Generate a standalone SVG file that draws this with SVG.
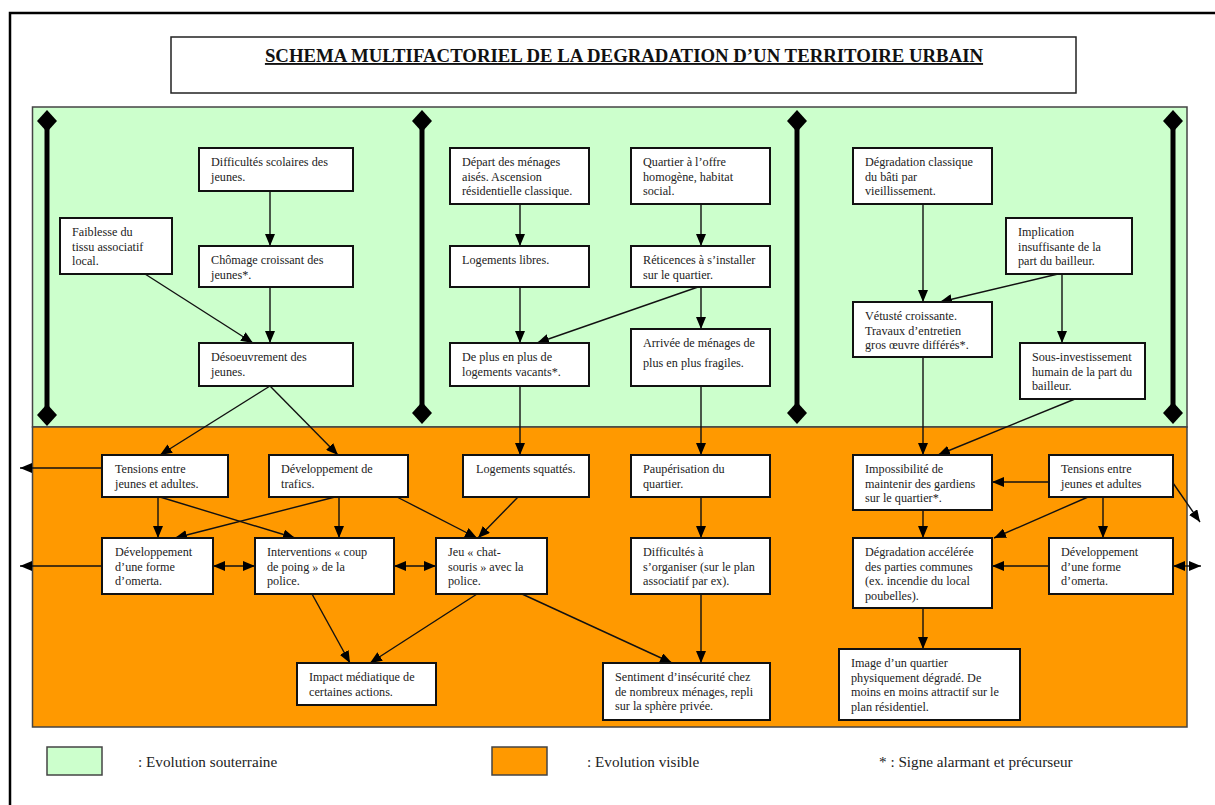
<svg xmlns="http://www.w3.org/2000/svg" width="1215" height="805" viewBox="0 0 1215 805">
<style>
.frame{fill:none;stroke:#000;stroke-width:2.5}
.title-box{fill:#fff;stroke:#222;stroke-width:1.5}
.title{font-family:"Liberation Serif",serif;font-size:18.8px;font-weight:bold;fill:#111;text-decoration:underline}
.zone-green{fill:#ccffcc;stroke:#444;stroke-width:1.5}
.zone-orange{fill:#ff9900;stroke:#444;stroke-width:1.5}
.box{fill:#fff;stroke:#111;stroke-width:2}
.t{font-family:"Liberation Serif",serif;font-size:12.2px;fill:#222}
.lg{font-family:"Liberation Serif",serif;font-size:15.2px;fill:#222}
.c{fill:none;stroke:#111;stroke-width:1.4}
.bar{stroke:#000;stroke-width:5}
.dia{fill:#000}
</style>
<defs>
<marker id="ah" viewBox="0 0 12 10" refX="12" refY="5" markerWidth="12" markerHeight="10" markerUnits="userSpaceOnUse" orient="auto-start-reverse">
<path d="M0,0 L12,5 L0,10 Z" fill="#000"/>
</marker>
</defs>
<rect width="1215" height="805" fill="#fff"/>
<path class="frame" d="M10,805 V13 H1215"/>
<g id="title">
<rect class="title-box" x="171" y="37" width="905" height="56"/>
<text class="title" x="624" y="62" text-anchor="middle">SCHEMA MULTIFACTORIEL DE LA DEGRADATION D’UN TERRITOIRE URBAIN</text>
</g>
<g id="zones">
<rect class="zone-green" x="32.5" y="107" width="1154.5" height="320"/>
<rect class="zone-orange" x="32.5" y="427" width="1154.5" height="300"/>
</g>
<g id="bars">
<line class="bar" x1="47" y1="121" x2="47" y2="415"/>
<polygon class="dia" points="47,110 57,121 47,132 37,121"/>
<polygon class="dia" points="47,404 57,415 47,426 37,415"/>
<line class="bar" x1="422" y1="121" x2="422" y2="413"/>
<polygon class="dia" points="422,110 432,121 422,132 412,121"/>
<polygon class="dia" points="422,402 432,413 422,424 412,413"/>
<line class="bar" x1="797" y1="121" x2="797" y2="413"/>
<polygon class="dia" points="797,110 807,121 797,132 787,121"/>
<polygon class="dia" points="797,402 807,413 797,424 787,413"/>
<line class="bar" x1="1173" y1="121" x2="1173" y2="413"/>
<polygon class="dia" points="1173,110 1183,121 1173,132 1163,121"/>
<polygon class="dia" points="1173,402 1183,413 1173,424 1163,413"/>
</g>
<g id="connectors">
<line class="c" x1="270" y1="191" x2="270" y2="246" marker-end="url(#ah)"/>
<line class="c" x1="270" y1="287" x2="270" y2="343" marker-end="url(#ah)"/>
<line class="c" x1="145" y1="274" x2="253" y2="343" marker-end="url(#ah)"/>
<line class="c" x1="520" y1="204" x2="520" y2="246" marker-end="url(#ah)"/>
<line class="c" x1="520" y1="287" x2="520" y2="343" marker-end="url(#ah)"/>
<line class="c" x1="701" y1="204" x2="701" y2="246" marker-end="url(#ah)"/>
<line class="c" x1="701" y1="287" x2="701" y2="329" marker-end="url(#ah)"/>
<line class="c" x1="698" y1="287" x2="537" y2="343" marker-end="url(#ah)"/>
<line class="c" x1="923" y1="204" x2="923" y2="302" marker-end="url(#ah)"/>
<line class="c" x1="1058" y1="274" x2="940" y2="302" marker-end="url(#ah)"/>
<line class="c" x1="1062" y1="274" x2="1062" y2="343" marker-end="url(#ah)"/>
<line class="c" x1="270" y1="386" x2="160" y2="455" marker-end="url(#ah)"/>
<line class="c" x1="270" y1="386" x2="338" y2="455" marker-end="url(#ah)"/>
<line class="c" x1="520" y1="386" x2="520" y2="455" marker-end="url(#ah)"/>
<line class="c" x1="701" y1="386" x2="701" y2="455" marker-end="url(#ah)"/>
<line class="c" x1="923" y1="357" x2="923" y2="455" marker-end="url(#ah)"/>
<line class="c" x1="1075" y1="399" x2="938" y2="455" marker-end="url(#ah)"/>
<line class="c" x1="102" y1="468" x2="20" y2="468" marker-end="url(#ah)"/>
<line class="c" x1="102" y1="566" x2="20" y2="566" marker-end="url(#ah)"/>
<line class="c" x1="158" y1="497" x2="158" y2="538" marker-end="url(#ah)"/>
<line class="c" x1="160" y1="497" x2="295" y2="538" marker-end="url(#ah)"/>
<line class="c" x1="335" y1="497" x2="175" y2="538" marker-end="url(#ah)"/>
<line class="c" x1="339" y1="497" x2="339" y2="538" marker-end="url(#ah)"/>
<line class="c" x1="397" y1="497" x2="477" y2="538" marker-end="url(#ah)"/>
<line class="c" x1="213" y1="566" x2="255" y2="566" marker-start="url(#ah)" marker-end="url(#ah)"/>
<line class="c" x1="394" y1="566" x2="436" y2="566" marker-start="url(#ah)" marker-end="url(#ah)"/>
<line class="c" x1="518" y1="497" x2="478" y2="538" marker-end="url(#ah)"/>
<line class="c" x1="701" y1="497" x2="701" y2="538" marker-end="url(#ah)"/>
<line class="c" x1="312" y1="594" x2="350" y2="663" marker-end="url(#ah)"/>
<line class="c" x1="477" y1="594" x2="370" y2="663" marker-end="url(#ah)"/>
<line class="c" x1="522" y1="594" x2="672" y2="663" marker-end="url(#ah)"/>
<line class="c" x1="701" y1="594" x2="701" y2="663" marker-end="url(#ah)"/>
<line class="c" x1="1049" y1="482" x2="992" y2="482" marker-end="url(#ah)"/>
<line class="c" x1="1088" y1="497" x2="994" y2="538" marker-end="url(#ah)"/>
<line class="c" x1="1103" y1="497" x2="1103" y2="538" marker-end="url(#ah)"/>
<line class="c" x1="1173" y1="483" x2="1200" y2="522" marker-end="url(#ah)"/>
<line class="c" x1="1049" y1="566" x2="992" y2="566" marker-end="url(#ah)"/>
<line class="c" x1="1173" y1="566" x2="1201" y2="566" marker-start="url(#ah)" marker-end="url(#ah)"/>
<line class="c" x1="923" y1="510" x2="923" y2="538" marker-end="url(#ah)"/>
<line class="c" x1="923" y1="608" x2="923" y2="649" marker-end="url(#ah)"/>
</g>
<g id="n_difficultes"><rect class="box" x="199" y="148" width="154" height="43"/><text class="t" x="211" y="166">Difficultés scolaires des<tspan x="211" dy="14.5">jeunes.</tspan></text></g>
<g id="n_faiblesse"><rect class="box" x="60" y="218" width="112" height="56"/><text class="t" x="72" y="236">Faiblesse du<tspan x="72" dy="14.5">tissu associatif</tspan><tspan x="72" dy="14.5">local.</tspan></text></g>
<g id="n_chomage"><rect class="box" x="199" y="246" width="154" height="41"/><text class="t" x="211" y="264">Chômage croissant des<tspan x="211" dy="14.5">jeunes*.</tspan></text></g>
<g id="n_desoeuvrement"><rect class="box" x="199" y="343" width="154" height="43"/><text class="t" x="211" y="361">Désoeuvrement des<tspan x="211" dy="14.5">jeunes.</tspan></text></g>
<g id="n_depart"><rect class="box" x="450" y="148" width="139" height="56"/><text class="t" x="462" y="166">Départ des ménages<tspan x="462" dy="14.5">aisés. Ascension</tspan><tspan x="462" dy="14.5">résidentielle classique.</tspan></text></g>
<g id="n_quartier"><rect class="box" x="631" y="148" width="139" height="56"/><text class="t" x="643" y="166">Quartier à l’offre<tspan x="643" dy="14.5">homogène, habitat</tspan><tspan x="643" dy="14.5">social.</tspan></text></g>
<g id="n_logements_libres"><rect class="box" x="450" y="246" width="139" height="41"/><text class="t" x="462" y="264">Logements libres.</text></g>
<g id="n_reticences"><rect class="box" x="631" y="246" width="139" height="41"/><text class="t" x="643" y="264">Réticences à s’installer<tspan x="643" dy="14.5">sur le quartier.</tspan></text></g>
<g id="n_vacants"><rect class="box" x="450" y="343" width="139" height="43"/><text class="t" x="462" y="361">De plus en plus de<tspan x="462" dy="14.5">logements vacants*.</tspan></text></g>
<g id="n_arrivee"><rect class="box" x="631" y="329" width="139" height="57"/><text class="t" x="643" y="347">Arrivée de ménages de<tspan x="643" dy="20">plus en plus fragiles.</tspan></text></g>
<g id="n_degradation_classique"><rect class="box" x="853" y="148" width="139" height="56"/><text class="t" x="865" y="166">Dégradation classique<tspan x="865" dy="14.5">du bâti par</tspan><tspan x="865" dy="14.5">vieillissement.</tspan></text></g>
<g id="n_implication"><rect class="box" x="1006" y="218" width="126" height="56"/><text class="t" x="1018" y="236">Implication<tspan x="1018" dy="14.5">insuffisante de la</tspan><tspan x="1018" dy="14.5">part du bailleur.</tspan></text></g>
<g id="n_vetuste"><rect class="box" x="853" y="302" width="139" height="55"/><text class="t" x="865" y="320">Vétusté croissante.<tspan x="865" dy="14.5">Travaux d’entretien</tspan><tspan x="865" dy="14.5">gros  œuvre différés*.</tspan></text></g>
<g id="n_sous_investissement"><rect class="box" x="1020" y="343" width="125" height="56"/><text class="t" x="1032" y="361">Sous-investissement<tspan x="1032" dy="14.5">humain de la part du</tspan><tspan x="1032" dy="14.5">bailleur.</tspan></text></g>
<g id="n_tensions1"><rect class="box" x="102" y="455" width="126" height="42"/><text class="t" x="115" y="473">Tensions entre<tspan x="115" dy="14.5">jeunes et  adultes.</tspan></text></g>
<g id="n_trafics"><rect class="box" x="269" y="455" width="139" height="42"/><text class="t" x="281" y="473">Développement de<tspan x="281" dy="14.5">trafics.</tspan></text></g>
<g id="n_squattes"><rect class="box" x="463" y="455" width="126" height="42"/><text class="t" x="476" y="473">Logements squattés.</text></g>
<g id="n_pauperisation"><rect class="box" x="631" y="455" width="139" height="42"/><text class="t" x="643" y="473">Paupérisation du<tspan x="643" dy="14.5">quartier.</tspan></text></g>
<g id="n_impossibilite"><rect class="box" x="853" y="455" width="139" height="55"/><text class="t" x="865" y="473">Impossibilité de<tspan x="865" dy="14.5">maintenir des gardiens</tspan><tspan x="865" dy="14.5">sur le quartier*.</tspan></text></g>
<g id="n_tensions2"><rect class="box" x="1049" y="455" width="124" height="42"/><text class="t" x="1061" y="473">Tensions entre<tspan x="1061" dy="14.5">jeunes et adultes</tspan></text></g>
<g id="n_omerta1"><rect class="box" x="102" y="538" width="111" height="56"/><text class="t" x="115" y="556">Développement<tspan x="115" dy="14.5">d’une  forme</tspan><tspan x="115" dy="14.5">d’omerta.</tspan></text></g>
<g id="n_interventions"><rect class="box" x="255" y="538" width="139" height="56"/><text class="t" x="267" y="556">Interventions « coup<tspan x="267" dy="14.5">de poing » de la</tspan><tspan x="267" dy="14.5">police.</tspan></text></g>
<g id="n_jeu"><rect class="box" x="436" y="538" width="111" height="56"/><text class="t" x="448" y="556">Jeu « chat-<tspan x="448" dy="14.5">souris » avec la</tspan><tspan x="448" dy="14.5">police.</tspan></text></g>
<g id="n_difficultes_organiser"><rect class="box" x="631" y="538" width="139" height="56"/><text class="t" x="643" y="556">Difficultés à<tspan x="643" dy="14.5">s’organiser (sur le plan</tspan><tspan x="643" dy="14.5">associatif par ex).</tspan></text></g>
<g id="n_degradation_acceleree"><rect class="box" x="853" y="538" width="139" height="70"/><text class="t" x="865" y="556">Dégradation accélérée<tspan x="865" dy="14.5">des parties communes</tspan><tspan x="865" dy="14.5">(ex. incendie du local</tspan><tspan x="865" dy="14.5">poubelles).</tspan></text></g>
<g id="n_omerta2"><rect class="box" x="1049" y="538" width="124" height="56"/><text class="t" x="1061" y="556">Développement<tspan x="1061" dy="14.5">d’une forme</tspan><tspan x="1061" dy="14.5">d’omerta.</tspan></text></g>
<g id="n_impact"><rect class="box" x="297" y="663" width="139" height="42"/><text class="t" x="309" y="681">Impact médiatique de<tspan x="309" dy="14.5">certaines actions.</tspan></text></g>
<g id="n_sentiment"><rect class="box" x="603" y="663" width="167" height="57"/><text class="t" x="615" y="681">Sentiment d’insécurité chez<tspan x="615" dy="14.5">de nombreux ménages, repli</tspan><tspan x="615" dy="14.5">sur la sphère privée.</tspan></text></g>
<g id="n_image"><rect class="box" x="839" y="649" width="181" height="71"/><text class="t" x="851" y="667">Image d’un quartier<tspan x="851" dy="14.5">physiquement dégradé. De</tspan><tspan x="851" dy="14.5">moins en moins attractif sur le</tspan><tspan x="851" dy="14.5">plan résidentiel.</tspan></text></g>
<g id="legend">
<rect class="zone-green" x="47" y="747" width="55" height="28"/>
<text class="lg" x="138" y="767">: Evolution souterraine</text>
<rect class="zone-orange" x="492" y="747" width="55" height="28"/>
<text class="lg" x="587" y="767">: Evolution visible</text>
<text class="lg" x="879" y="767">* : Signe alarmant et précurseur</text>
</g>
</svg>
